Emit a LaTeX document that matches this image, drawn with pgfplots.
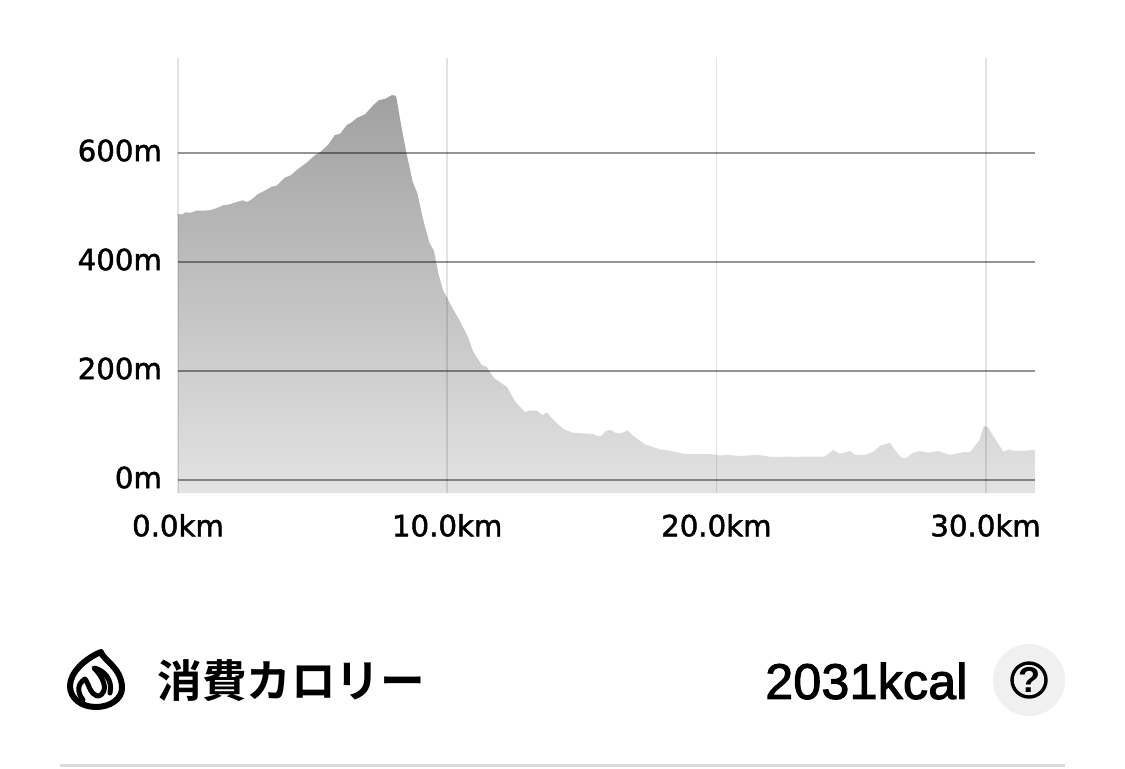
\documentclass[border=0pt]{standalone}
\usepackage{pgfplots}
\pgfplotsset{compat=1.18}
\usepackage{fontspec}
\setmainfont{Liberation Sans}
\newfontfamily\tickfont[FakeBold=1.6]{DejaVu Sans}
\newfontfamily\medfont[FakeBold=2.2,LetterSpace=0.6]{Liberation Sans}
\newfontfamily\cjk[BoldFont={Noto Sans CJK JP Bold}]{Noto Sans CJK JP}
\begin{document}
\begin{tikzpicture}[x=0.5pt,y=-0.5pt]
\useasboundingbox (0,0) rectangle (1125,768);
\begin{axis}[
  at={(89pt,-246.5pt)}, anchor=south west,
  x=13.46pt, y=0.2725pt,
  xmin=0, xmax=31.83, ymin=-24, ymax=774,
  axis line style={draw=none},
  major tick length=0pt,
  axis on top,
  xtick={0,10,20,30},
  ytick={0,200,400,600},
  xticklabels={0.0km,10.0km,20.0km,30.0km},
  yticklabels={0m,200m,400m,600m},
  tick label style={font=\tickfont\fontsize{14.6}{16}\selectfont, text=black},
  xticklabel style={yshift=-7pt},
  yticklabel style={xshift=-4.5pt, yshift=1.2pt},
  clip=false,
]
\addplot[draw=none, shade, top color=black!37, bottom color=black!11, shading angle=0] coordinates {
(0,-24)(0,488)(0.14,487)(0.28,491)(0.45,490)(0.69,494)(0.94,494)(1.21,495)(1.50,500)(1.68,504)(1.87,505)
(2.12,509)(2.40,513)(2.58,510)(2.80,517)(2.95,524)(3.23,531)(3.48,538)(3.67,540)(3.97,555)(4.16,558)
(4.47,571)(4.78,582)(5.09,596)(5.27,601)(5.58,615)(5.83,633)(6.02,635)(6.27,651)(6.45,656)(6.64,664)
(6.95,671)(7.26,688)(7.47,697)(7.69,699)(7.94,706)(8.10,705)(8.31,645)(8.49,599)(8.72,547)(8.89,526)
(9.11,477)(9.34,435)(9.51,420)(9.67,379)(9.86,346)(9.98,336)(10.23,312)(10.48,291)(10.79,260)(10.95,237)
(11.28,211)(11.47,207)(11.74,187)(12.23,170)(12.52,144)(12.89,124)(13.02,127)(13.32,127)(13.55,119)(13.70,124)
(14.00,107)(14.31,94)(14.62,87)(15.43,84)(15.55,81)(15.74,81)(15.90,90)(16.05,92)(16.27,86)(16.48,86)
(16.70,91)(16.91,81)(17.35,65)(17.91,56)(18.22,54)(18.77,48)(19.08,48)(19.89,47)(20.13,45)(20.44,46)
(20.81,44)(21.56,46)(22.05,42)(22.80,43)(22.92,42)(23.23,43)(24.03,43)(24.34,55)(24.57,48)(24.96,53)
(25.15,46)(25.52,46)(25.83,52)(26.10,63)(26.45,68)(26.63,55)(26.86,41)(27.04,40)(27.31,50)(27.56,53)
(27.87,50)(28.24,53)(28.68,46)(29.17,51)(29.42,51)(29.77,73)(29.94,99)(30.08,97)(30.29,80)(30.66,52)
(30.88,56)(31.09,53)(31.53,54)(31.83,55)(31.83,-24)
} -- cycle;
\addplot[black, opacity=0.11, line width=0.9pt, forget plot] coordinates {(0,-24)(0,774)};
\addplot[black, opacity=0.11, line width=0.9pt, forget plot] coordinates {(10,-24)(10,774)};
\addplot[black, opacity=0.11, line width=0.9pt, forget plot] coordinates {(20,-24)(20,774)};
\addplot[black, opacity=0.11, line width=0.9pt, forget plot] coordinates {(30,-24)(30,774)};
\addplot[black, opacity=0.42, line width=0.9pt, forget plot] coordinates {(0,0)(31.83,0)};
\addplot[black, opacity=0.42, line width=0.9pt, forget plot] coordinates {(0,200)(31.83,200)};
\addplot[black, opacity=0.42, line width=0.9pt, forget plot] coordinates {(0,400)(31.83,400)};
\addplot[black, opacity=0.42, line width=0.9pt, forget plot] coordinates {(0,600)(31.83,600)};
\end{axis}
% footer
\node[anchor=west, inner sep=0pt, font=\cjk\bfseries\fontsize{22.3}{24}\selectfont] at (157,681) {消費カロリー};
\node[anchor=east, inner sep=0pt, font=\medfont\fontsize{25}{27}\selectfont] at (968,681) {2031kcal};
\fill[black!6] (1029,680) circle (36);
\draw[black, line width=1.7pt] (1029,680) circle (17);
\node[font=\bfseries\fontsize{18}{19}\selectfont] at (1029,680) {?};
\fill[black!14] (60,763.5) rectangle (1065,767);
% flame icon
\draw[black, line width=3pt, line join=round] (101,652)
  .. controls (103,660) and (122,668) .. (122,688)
  .. controls (122,699) and (110,707) .. (96,707)
  .. controls (81,707) and (70,698) .. (70,686)
  .. controls (70,672) and (86,658) .. (101,652) -- cycle;
\draw[black, line width=2.5pt, line cap=round, line join=round] (83,700)
  .. controls (77,692) and (77,684) .. (85,679)
  .. controls (89,684) and (90,694) .. (97,696)
  .. controls (104,696) and (106,688) .. (103,681)
  .. controls (101,676) and (98,672) .. (94,668)
  .. controls (104,670) and (113,680) .. (110,693);
\end{tikzpicture}
\end{document}
